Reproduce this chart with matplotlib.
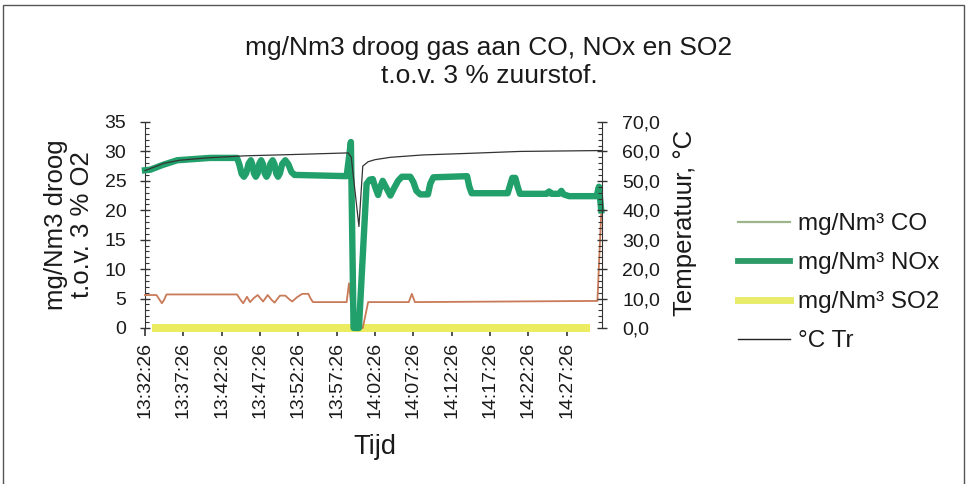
import matplotlib
matplotlib.use("Agg")
import matplotlib.pyplot as plt
from matplotlib.patches import Rectangle
from matplotlib.lines import Line2D
from matplotlib.ticker import MultipleLocator, FixedLocator

plt.rcParams['font.family'] = ['Liberation Sans', 'DejaVu Sans']

# ---------------- data (minutes after 13:32:26) ----------------
tick_minutes = [0, 5, 10, 15, 20, 25, 30, 35, 40, 45, 50, 55]
tick_labels = ["13:32:26", "13:37:26", "13:42:26", "13:47:26", "13:52:26", "13:57:26",
               "14:02:26", "14:07:26", "14:12:26", "14:17:26", "14:22:26", "14:27:26"]

left_ticks = [0, 5, 10, 15, 20, 25, 30, 35]
right_ticks = [0, 10, 20, 30, 40, 50, 60, 70]
right_tick_labels = ["0,0", "10,0", "20,0", "30,0", "40,0", "50,0", "60,0", "70,0"]

nox_t = [0, 0.7, 2.3, 4.2, 8.5, 12.0,
         12.3, 12.6, 12.9, 13.2, 13.5, 13.8, 14.0, 14.2, 14.45, 14.7, 14.9, 15.15,
         15.4, 15.6, 15.85, 16.1, 16.35, 16.65, 16.9, 17.1, 17.35, 17.6, 17.9, 18.3,
         18.7, 19.1, 19.5, 19.8,
         26.3, 26.85, 27.2, 27.9, 28.9, 29.3, 29.7, 30.0, 30.4, 30.7, 31.0, 31.4,
         32.0, 32.5, 33.0, 33.5, 34.6, 35.0, 35.4, 35.9, 36.9, 37.2, 37.6, 42.0,
         42.3, 42.6, 47.3, 47.6, 47.9, 48.3, 48.6, 48.9, 52.4, 52.7, 53.0, 54.0,
         54.3, 54.6, 55.3, 58.9, 59.2, 59.5]
nox_v = [26.8, 26.9, 27.7, 28.5, 28.9, 28.9,
         27.8, 26.2, 25.7, 26.3, 27.9, 28.5, 27.8, 26.3, 25.7, 26.3, 27.9, 28.5,
         27.8, 26.3, 25.7, 26.3, 27.9, 28.5, 27.8, 26.3, 25.7, 26.3, 27.9, 28.5,
         27.8, 26.5, 26.0, 26.0,
         25.8, 31.6, 0.0, 0.0, 24.5, 25.2, 25.3, 24.0, 22.6, 24.0, 25.0, 24.0,
         22.5, 23.8, 25.0, 25.7, 25.7, 24.8, 23.3, 22.7, 22.7, 24.5, 25.6, 25.8,
         24.0, 22.9, 22.9, 24.2, 25.5, 25.5, 24.0, 22.8, 22.8, 23.2, 22.8, 22.8,
         23.3, 22.7, 22.4, 22.4, 24.0, 20.0]

co_t = [0, 1.5, 1.9, 2.2, 2.5, 2.8, 12.0, 12.4, 12.8, 13.3, 13.7, 14.2, 14.7, 15.4,
        16.0, 16.5, 16.9, 17.3, 17.6, 18.3, 18.8, 19.2, 19.8, 20.5, 21.3, 21.6, 21.9,
        26.3, 26.6, 27.2, 28.4, 29.1, 34.4, 34.8, 35.2, 59.0, 59.5]
co_v = [5.6, 5.6, 4.8, 4.2, 4.8, 5.7, 5.7, 4.9, 4.2, 5.3, 4.4, 5.1, 5.6, 4.5,
        5.6, 4.8, 4.3, 5.0, 5.5, 5.5, 4.9, 4.5, 5.2, 5.8, 5.8, 5.0, 4.4,
        4.4, 7.6, 0.0, 0.0, 4.4, 4.4, 5.8, 4.4, 4.6, 19.5]

so2_t = [0.9, 58.0]
so2_v = [0.0, 0.0]

temp_t = [0, 1.0, 2.5, 4.5, 8.0, 13.0, 20.0, 26.5, 26.9, 27.9, 28.4, 29.1, 30.0, 32.0,
          36.2, 42.8, 48.9, 59.5]
temp_v = [53.5, 54.5, 56.0, 57.0, 57.8, 58.5, 59.0, 59.5, 58.0, 34.5, 55.0, 56.5, 57.2,
          58.0, 58.8, 59.4, 60.0, 60.3]

series_labels = ["mg/Nm³ CO", "mg/Nm³ NOx", "mg/Nm³ SO2", "°C Tr"]

# ---------------- figure ----------------
W, H = 967, 484
fig = plt.figure(figsize=(W / 100, H / 100), dpi=100)
fig.patch.set_facecolor("white")

fig.patches.append(Rectangle((3 / W, -0.02), (964 - 3) / W, 1 - 5 / H + 0.02,
                             transform=fig.transFigure, fill=False,
                             edgecolor="#555555", linewidth=1.0))

ax = fig.add_axes([145 / W, 1 - 328 / H, (602 - 145) / W, (328 - 122) / H])
ax2 = ax.twinx()

txt = "#1a1a1a"
axcol = "#333333"

co_line, = ax.plot(co_t, co_v, color="#c97a58", lw=1.3, clip_on=False, zorder=3,
                   solid_joinstyle="round")
nox_line, = ax.plot(nox_t, nox_v, color="#22a06b", lw=4.6, clip_on=False, zorder=4,
                    solid_joinstyle="round")
so2_line, = ax.plot(so2_t, so2_v, color="#ecec60", lw=5.8, clip_on=False, zorder=2,
                    solid_capstyle="butt")
temp_line, = ax2.plot(temp_t, temp_v, color="#333333", lw=0.9, clip_on=False, zorder=5)

ax.set_xlim(0, 59.6)
ax.set_ylim(0, 35)
ax2.set_ylim(0, 70)

for a in (ax, ax2):
    a.set_facecolor("none")
    for s in ("top", "bottom"):
        a.spines[s].set_visible(False)
    a.spines["left"].set_color(axcol)
    a.spines["right"].set_color(axcol)
ax.spines["right"].set_visible(False)
ax2.spines["left"].set_visible(False)

ax.set_xticks(tick_minutes)
ax.set_xticklabels(tick_labels, rotation=90, fontsize=14, color=txt)
ax.tick_params(axis="x", direction="out", length=6, width=1.2, color=axcol, pad=4)

ax.yaxis.set_major_locator(FixedLocator(left_ticks))
ax.yaxis.set_minor_locator(MultipleLocator(1))
ax.set_yticklabels([str(v) for v in left_ticks], fontsize=14, color=txt)
ax.tick_params(axis="y", which="major", direction="inout", length=7, width=1, color=axcol, pad=10)
ax.tick_params(axis="y", which="minor", direction="in", length=3, width=0.8, color=axcol)

ax2.yaxis.set_major_locator(FixedLocator(right_ticks))
ax2.yaxis.set_minor_locator(MultipleLocator(2))
ax2.set_yticklabels(right_tick_labels, fontsize=14, color=txt)
ax2.tick_params(axis="y", which="major", direction="inout", length=7, width=1, color=axcol, pad=11)
ax2.tick_params(axis="y", which="minor", direction="in", length=3, width=0.8, color=axcol)

fig.text(489 / W, 1 - 62 / H, "mg/Nm3 droog gas aan CO, NOx en SO2\nt.o.v. 3 % zuurstof.",
         ha="center", va="center", fontsize=19, color=txt, linespacing=1.2)
fig.text(69 / W, 1 - 225 / H, "mg/Nm3 droog\nt.o.v. 3 % O2", rotation=90,
         ha="center", va="center", fontsize=18.5, color=txt, linespacing=1.1)
fig.text(685 / W, 1 - 223 / H, "Temperatuur, °C", rotation=90,
         ha="center", va="center", fontsize=18.5, color=txt)
fig.text(375 / W, 1 - 447 / H, "Tijd", ha="center", va="center", fontsize=19.5, color=txt)

handles = [
    Line2D([], [], color="#9db58a", lw=1.6),
    Line2D([], [], color="#2e9a68", lw=4.2),
    Line2D([], [], color="#e8ec6a", lw=5.0),
    Line2D([], [], color="#222222", lw=1.0),
]
leg = fig.legend(handles, series_labels, loc="upper left",
                 bbox_to_anchor=(738 / W, 1 - 213 / H), bbox_transform=fig.transFigure,
                 frameon=False, fontsize=17.5, handlelength=2.15, handletextpad=0.3,
                 labelspacing=0.7, borderpad=0, borderaxespad=0)
for t in leg.get_texts():
    t.set_color(txt)

fig.savefig("out.png", dpi=100, facecolor="white")
